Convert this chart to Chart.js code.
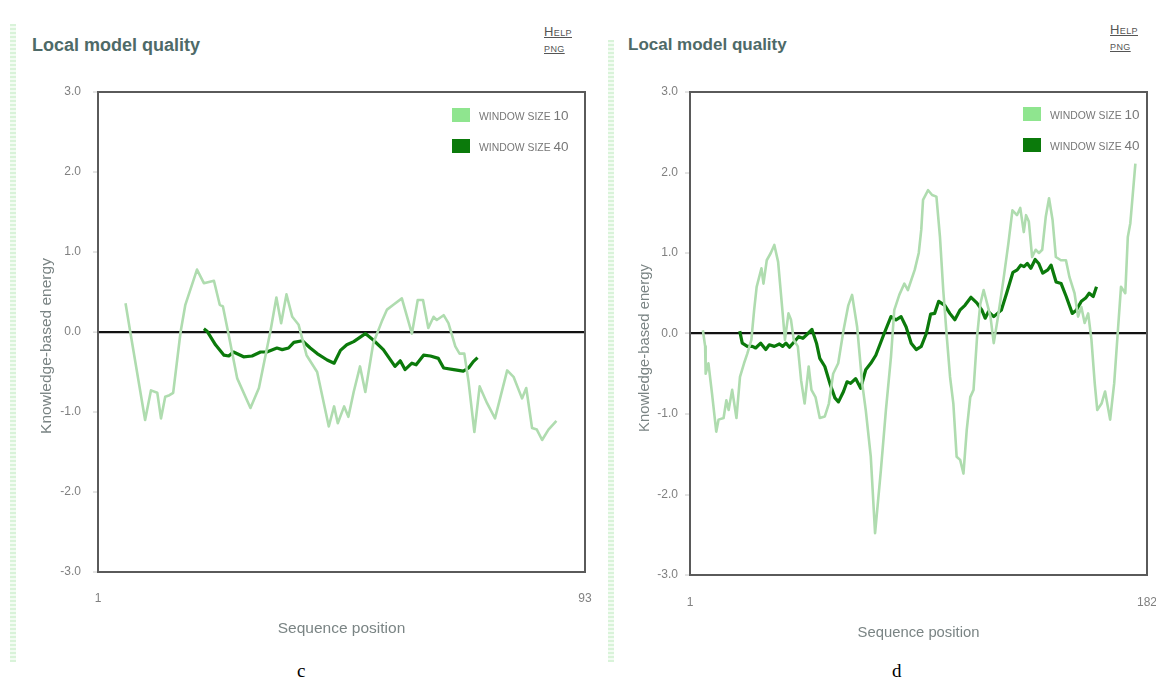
<!DOCTYPE html>
<html>
<head>
<meta charset="utf-8">
<script src="https://cdn.jsdelivr.net/npm/chart.js@4.4.1/dist/chart.umd.min.js"></script>
<style>
  html, body { margin:0; padding:0; width:1156px; height:682px; overflow:hidden; background:#fff; }
  body { position:relative; font-family:"Liberation Sans", Arial, sans-serif; }
  .stripe { position:absolute; width:6px;
    background: repeating-linear-gradient(to bottom, #d9f3d9 0px, #d9f3d9 2px, #f3fcf3 2px, #f3fcf3 4px); }
  .title { position:absolute; font-weight:bold; color:#4e6a68; white-space:nowrap; }
  .links { position:absolute; font-size:13px; color:#555; line-height:16px; font-variant:small-caps; letter-spacing:0.4px; }
  .links span { display:block; text-decoration:underline; }
  .cap { position:absolute; font-family:"Liberation Serif", "Times New Roman", serif; font-size:19px; color:#000; }
  canvas { position:absolute; top:0; }
</style>
</head>
<body>
<div class="stripe" style="left:10px; top:24px; height:638px;"></div>
<div class="stripe" style="left:608px; top:40px; height:622px;"></div>

<div class="title" style="left:32px; top:35px; font-size:18px;">Local model quality</div>
<div class="title" style="left:628px; top:35px; font-size:17px;">Local model quality</div>
<div class="links" style="left:544px; top:24px;"><span>Help</span><span style="font-size:13.5px; line-height:15px">png</span></div>
<div class="links" style="left:1110px; top:22px;"><span>Help</span><span style="font-size:13px; line-height:15px">png</span></div>

<div class="cap" style="left:297px; top:660px;">c</div>
<div class="cap" style="left:892px; top:660px;">d</div>

<canvas id="chartC" width="600" height="682" style="left:0px; width:600px; height:682px;"></canvas>
<canvas id="chartD" width="570" height="682" style="left:600px; width:570px; height:682px;"></canvas>

<script>
// ---------------- data ----------------
const seriesLabels = ['WINDOW SIZE 10', 'WINDOW SIZE 40'];
const yTickValues = [-3, -2, -1, 0, 1, 2, 3];
const xTicksC = [1, 93];
const xTicksD = [1, 182];
const xTitle = 'Sequence position';
const yTitle = 'Knowledge-based energy';

// Panel c, window size 10
const posC10 = [6.2, 7.1, 9.9, 11.0, 12.2, 12.9, 13.7, 14.5, 15.2, 16.6, 17.5, 19.7, 21.0, 22.9, 24.0, 24.6, 25.7, 27.3, 29.8, 31.4,
  33.6, 34.7, 35.6, 36.6, 37.7, 38.9, 40.4, 42.4, 44.6, 45.6, 46.3, 47.5, 48.3, 49.3, 50.5, 51.5, 53.0, 54.6, 55.6, 56.8,
  58.4, 60.3, 61.4, 62.4, 63.4, 64.4, 65.0, 66.3, 67.2, 68.5, 69.3, 70.2, 71.0, 72.1, 73.1, 74.5, 76.0, 78.3, 79.5, 81.1,
  81.9, 83.0, 83.9, 84.9, 86.1, 87.6];
const energyC10 = [0.36, 0.00, -1.10, -0.73, -0.76, -1.08, -0.81, -0.79, -0.76, 0.00, 0.34, 0.78, 0.61, 0.64, 0.34, 0.32, -0.04, -0.58, -0.95, -0.70,
  0.02, 0.43, 0.11, 0.47, 0.19, 0.09, -0.29, -0.50, -1.18, -0.93, -1.14, -0.93, -1.06, -0.75, -0.43, -0.75, -0.14, 0.13, 0.28, 0.34,
  0.42, -0.02, 0.40, 0.40, 0.05, 0.19, 0.15, 0.21, 0.11, -0.18, -0.27, -0.27, -0.62, -1.25, -0.68, -0.89, -1.08, -0.48, -0.56, -0.83,
  -0.70, -1.20, -1.22, -1.35, -1.22, -1.11];

// Panel c, window size 40
const posC40 = [21.0, 21.6, 23.2, 24.8, 25.7, 26.6, 28.5, 30.1, 31.7, 32.9, 34.8, 35.8, 37.0, 38.0, 39.6, 41.1, 42.4, 44.3, 45.6, 46.8,
  48.0, 49.3, 50.2, 51.5, 53.0, 54.9, 57.1, 58.1, 59.0, 60.3, 61.1, 62.5, 63.8, 65.3, 66.3, 68.2, 70.0, 71.0, 71.9, 72.7];
const energyC40 = [0.04, 0.01, -0.16, -0.29, -0.30, -0.25, -0.31, -0.30, -0.25, -0.25, -0.20, -0.22, -0.20, -0.13, -0.11, -0.20, -0.27, -0.35, -0.39, -0.23,
  -0.16, -0.12, -0.08, -0.02, -0.10, -0.22, -0.43, -0.36, -0.47, -0.39, -0.41, -0.29, -0.30, -0.33, -0.45, -0.47, -0.49, -0.45, -0.37, -0.32];

// Panel d, window size 10
const posD10 = [6.1, 7.0, 7.2, 8.3, 9.7, 11.4, 12.3, 14.3, 15.4, 16.3, 17.7, 19.4, 20.8, 22.4, 23.7, 25.3, 26.4, 27.4, 29.3, 30.1,
  31.4, 33.0, 34.4, 35.9, 37.7, 38.6, 40.0, 41.0, 42.1, 43.7, 45.0, 46.4, 48.0, 49.1, 50.7, 52.4, 54.4, 56.0, 57.7, 59.7,
  61.8, 63.7, 65.2, 67.2, 69.2, 70.6, 72.6, 74.3, 76.6, 78.6, 80.6, 81.9, 83.9, 85.9, 87.3, 90.0, 91.6, 92.6, 93.3, 95.3,
  96.9, 98.6, 100.0, 101.3, 102.7, 104.0, 105.3, 106.6, 108.0, 109.3, 110.6, 112.0, 113.3, 114.7, 116.0, 117.3, 118.7, 120.0, 121.3, 123.0,
  125.1, 127.1, 128.7, 130.5, 131.8, 133.2, 134.1, 135.2, 136.5, 137.9, 139.2, 140.5, 141.9, 143.2, 144.6, 145.9, 147.9, 149.9, 151.3, 153.3,
  154.7, 156.0, 157.3, 158.7, 160.0, 161.3, 162.3, 164.0, 165.4, 167.4, 169.0, 170.3, 171.7, 173.4, 174.4, 175.4, 177.4];
const energyD10 = [0.04, -0.16, -0.50, -0.37, -0.74, -1.22, -1.07, -1.05, -0.83, -0.95, -0.70, -1.05, -0.54, -0.37, -0.25, -0.08, 0.29, 0.58, 0.81, 0.62,
  0.91, 1.00, 1.10, 0.89, 0.25, -0.08, 0.25, 0.17, -0.08, -0.16, -0.58, -0.87, -0.41, -0.70, -0.79, -1.05, -1.03, -0.87, -0.50, -0.37,
  0.04, 0.35, 0.48, 0.08, -0.62, -0.95, -1.53, -2.48, -1.70, -0.95, -0.29, 0.29, 0.48, 0.62, 0.54, 0.79, 1.00, 1.29, 1.66, 1.78,
  1.72, 1.70, 1.20, 0.54, -0.04, -0.54, -0.87, -1.53, -1.57, -1.74, -1.20, -0.79, -0.70, -0.04, 0.37, 0.54, 0.37, 0.21, -0.12, 0.21,
  0.66, 1.12, 1.53, 1.47, 1.56, 1.26, 1.47, 1.39, 0.95, 1.04, 1.00, 1.04, 1.45, 1.68, 1.41, 0.95, 0.91, 0.91, 0.70, 0.50,
  0.21, 0.33, 0.13, 0.25, -0.08, -0.62, -0.95, -0.87, -0.72, -1.07, -0.62, -0.04, 0.58, 0.50, 1.20, 1.37, 2.11];

// Panel d, window size 40
const posD40 = [20.7, 21.7, 23.7, 25.7, 27.0, 29.0, 31.0, 32.4, 34.4, 36.4, 37.7, 39.0, 40.4, 42.4, 44.0, 45.7, 47.7, 49.3, 51.1, 52.4,
  54.4, 56.4, 58.4, 59.8, 61.8, 63.2, 64.6, 66.6, 68.6, 70.6, 72.6, 74.6, 77.9, 80.6, 82.6, 84.6, 86.6, 88.6, 90.6, 92.6,
  94.6, 96.3, 97.9, 99.5, 101.9, 103.9, 105.9, 107.9, 109.9, 112.3, 114.6, 116.6, 117.9, 119.2, 121.3, 124.3, 126.4, 128.9, 130.6, 132.0,
  133.3, 134.6, 136.0, 137.7, 139.1, 140.7, 142.7, 144.0, 146.0, 148.0, 150.0, 152.4, 154.0, 156.0, 157.7, 159.1, 160.7, 162.0];
const energyD40 = [0.03, -0.12, -0.16, -0.16, -0.18, -0.12, -0.20, -0.14, -0.16, -0.13, -0.16, -0.12, -0.17, -0.10, -0.04, -0.06, 0.00, 0.05, -0.12, -0.31,
  -0.41, -0.62, -0.80, -0.85, -0.72, -0.60, -0.62, -0.56, -0.68, -0.45, -0.37, -0.27, 0.00, 0.21, 0.17, 0.21, 0.08, -0.12, -0.20, -0.16,
  0.00, 0.24, 0.25, 0.40, 0.35, 0.25, 0.17, 0.29, 0.35, 0.45, 0.38, 0.29, 0.19, 0.27, 0.21, 0.29, 0.50, 0.76, 0.79, 0.85,
  0.83, 0.87, 0.81, 0.92, 0.87, 0.75, 0.79, 0.85, 0.64, 0.62, 0.46, 0.25, 0.29, 0.40, 0.44, 0.50, 0.46, 0.58];

// ---------------- styling ----------------
const lightLine = '#afdcaf';
const lightSwatch = '#8fe58f';
const darkLine = '#0b7a0b';
const darkSwatch = '#0b7a0b';
const tickGray = '#808080';
const titleGray = '#7a8484';
const FONT = '"Liberation Sans", Arial, sans-serif';

const toXY = (xs, ys) => xs.map((x, i) => ({ x: x, y: ys[i] }));

const framePlugin = {
  id: 'frame',
  afterDatasetsDraw(chart, args, o) {
    const { ctx, chartArea: a } = chart;
    ctx.save();
    ctx.strokeStyle = o.color;
    ctx.lineWidth = o.width;
    ctx.strokeRect(a.left, a.top, a.right - a.left, a.bottom - a.top);
    ctx.restore();
  }
};

const insideLegend = {
  id: 'insideLegend',
  afterDraw(chart, args, o) {
    const { ctx, chartArea: a } = chart;
    ctx.save();
    chart.data.datasets.forEach((ds, i) => {
      const x = a.right - o.fromRight;
      const y = a.top + o.top + i * o.gap;
      ctx.fillStyle = ds.swatch;
      ctx.fillRect(x, y, o.boxW, o.boxH);
      const cut = ds.label.lastIndexOf(' ');
      const word = ds.label.slice(0, cut + 1);
      const num = ds.label.slice(cut + 1);
      ctx.fillStyle = o.color;
      ctx.textBaseline = 'alphabetic';
      ctx.textAlign = 'left';
      const base = y + o.boxH / 2 + 4.5;
      ctx.font = o.smallSize + 'px ' + FONT;
      const tx = x + o.boxW + o.textGap;
      ctx.fillText(word, tx, base);
      const w = ctx.measureText(word).width;
      ctx.font = o.bigSize + 'px ' + FONT;
      ctx.fillText(num, tx + w, base);
    });
    ctx.restore();
  }
};

const yTitlePlugin = {
  id: 'yTitle',
  afterDraw(chart, args, o) {
    const { ctx } = chart;
    ctx.save();
    ctx.translate(o.x, o.y);
    ctx.rotate(-Math.PI / 2);
    ctx.font = o.size + 'px ' + FONT;
    ctx.fillStyle = o.color;
    ctx.textAlign = 'center';
    ctx.textBaseline = 'middle';
    ctx.fillText(o.text, 0, 0);
    ctx.restore();
  }
};

function makeChart(id, cfg) {
  return new Chart(document.getElementById(id), {
    type: 'line',
    data: {
      datasets: [
        { label: seriesLabels[0], data: toXY(cfg.p10, cfg.e10), borderColor: lightLine, swatch: lightSwatch,
          borderWidth: 2.6, pointRadius: 0, tension: 0, borderJoinStyle: 'round' },
        { label: seriesLabels[1], data: toXY(cfg.p40, cfg.e40), borderColor: darkLine, swatch: darkSwatch,
          borderWidth: 3.2, pointRadius: 0, tension: 0, borderJoinStyle: 'round' }
      ]
    },
    options: {
      responsive: false,
      animation: false,
      devicePixelRatio: 1,
      layout: { padding: { left: 0, top: cfg.top, right: cfg.padRight, bottom: 0 } },
      plugins: {
        legend: { display: false },
        tooltip: { enabled: false },
        frame: { color: '#5a5a5a', width: 2 },
        insideLegend: { fromRight: cfg.legendFromRight, top: cfg.legendTop, gap: 31, boxW: 18, boxH: 14, textGap: 9,
          smallSize: 10.4, bigSize: 13.5, color: '#777' },
        yTitle: { text: yTitle, x: cfg.yTitleX, y: cfg.yTitleY, size: cfg.titleSize, color: titleGray }
      },
      scales: {
        x: {
          type: 'linear',
          min: cfg.xTicks[0],
          max: cfg.xTicks[cfg.xTicks.length - 1],
          afterBuildTicks: s => { s.ticks = cfg.xTicks.map(v => ({ value: v })); },
          afterFit: s => { s.height = cfg.xScaleH; },
          grid: { display: true, drawOnChartArea: false, drawTicks: true, tickLength: cfg.xTickLen,
                  color: 'rgba(0,0,0,0)', tickColor: 'rgba(0,0,0,0)' },
          border: { display: false },
          ticks: { color: tickGray, font: { family: FONT, size: 12 }, padding: 2, maxRotation: 0, autoSkip: false },
          title: { display: true, text: xTitle, color: titleGray, font: { family: FONT, size: cfg.titleSize },
                   padding: { top: 0, bottom: cfg.xTitlePadBottom } }
        },
        y: {
          type: 'linear',
          min: yTickValues[0],
          max: yTickValues[yTickValues.length - 1],
          afterBuildTicks: s => { s.ticks = yTickValues.map(v => ({ value: v })); },
          afterFit: s => { s.width = cfg.yScaleW; },
          grid: {
            drawTicks: true, tickLength: 5, tickColor: '#c8c8c8', tickWidth: 1,
            color: c => (c.tick && c.tick.value === 0) ? '#111111' : 'rgba(0,0,0,0)',
            lineWidth: c => (c.tick && c.tick.value === 0) ? 2.2 : 0
          },
          border: { display: false },
          ticks: { color: tickGray, font: { family: FONT, size: 12 }, padding: cfg.yTickPad,
                   callback: v => Number(v).toFixed(1) }
        }
      }
    },
    plugins: [framePlugin, insideLegend, yTitlePlugin]
  });
}

// Panel c: canvas at x=0
makeChart('chartC', {
  p10: posC10, e10: energyC10, p40: posC40, e40: energyC40, xTicks: xTicksC,
  top: 92, padRight: 15, yScaleW: 98, xScaleH: 110, xTickLen: 17, xTitlePadBottom: 44,
  yTickPad: 12, legendFromRight: 133, legendTop: 16, yTitleX: 47, yTitleY: 346, titleSize: 15.5
});

// Panel d: canvas at x=600
makeChart('chartD', {
  p10: posD10, e10: energyD10, p40: posD40, e40: energyD40, xTicks: xTicksD,
  top: 92, padRight: 23, yScaleW: 90, xScaleH: 107, xTickLen: 18, xTitlePadBottom: 40,
  yTickPad: 7, legendFromRight: 124, legendTop: 15, yTitleX: 45, yTitleY: 348, titleSize: 14.8
});
</script>
</body>
</html>
